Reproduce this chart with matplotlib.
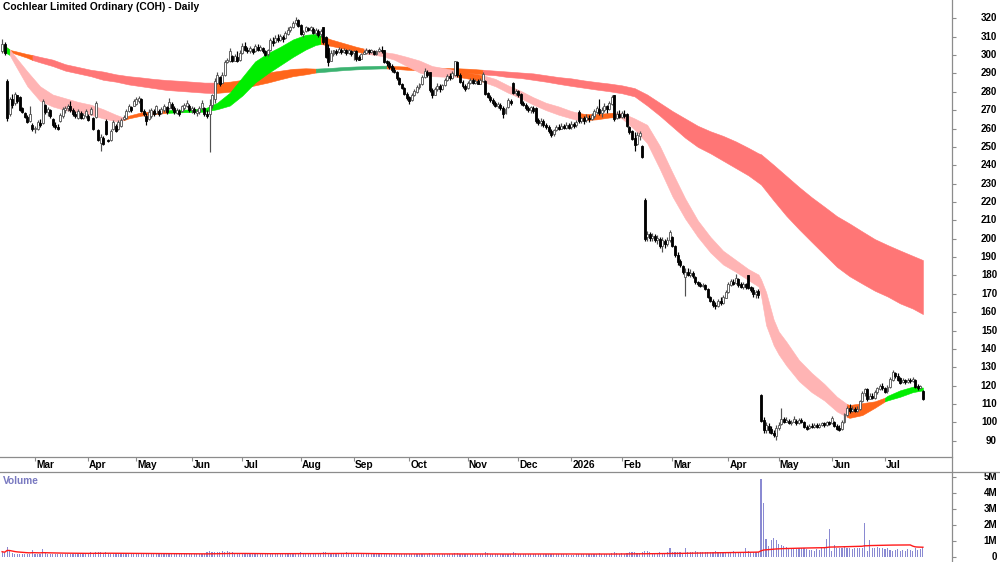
import numpy as np
import pandas as pd
import matplotlib
matplotlib.use('Agg')
import matplotlib.pyplot as plt
import matplotlib.transforms as mtransforms
from matplotlib.lines import Line2D

plt.rcParams['font.family'] = ['Liberation Sans', 'DejaVu Sans']

# ASX trading days shown on the chart
holidays = ['2025-04-18', '2025-04-21', '2025-04-25', '2025-06-09', '2025-12-25', '2025-12-26',
            '2026-01-01', '2026-01-26', '2026-04-03', '2026-04-06', '2026-06-08']
dates = pd.bdate_range('2025-02-12', '2026-07-22')
dates = dates[~dates.isin(pd.to_datetime(holidays))]

opens = [
    302, 306, 286, 268, 276, 274, 278, 277, 271, 268.5,
    266.5, 264, 262, 259.5, 260, 263, 263, 273, 269, 270,
    265, 262, 261, 264, 267, 270, 271, 272, 270, 268,
    266, 268.5, 266, 267, 267, 268, 266, 266.5, 259, 252,
    255, 264, 254, 253.5, 259.5, 261.5, 259.5, 261.5, 265, 265.5,
    269.5, 271.5, 272.5, 273.5, 275, 276, 269.5, 267, 265, 267,
    269.5, 268.5, 269.5, 268.5, 270, 271.5, 271, 273.5, 271, 268.5,
    269.5, 269.5, 271, 272.5, 272.5, 270, 270.5, 268.5, 269, 271,
    271, 268, 268, 273, 276, 285, 288, 285, 289, 296,
    297, 299.5, 297, 299, 297.5,
    301, 305, 303, 302, 303.5, 302, 304.5, 303, 304, 302,
    300.5, 302.5, 307.5, 307, 309.5, 308, 310, 309.5, 311.5, 313.5,
    315, 317.5, 319, 316.5, 311.5, 313, 314.5, 313.5, 314, 312,
    313, 311.5, 315, 310, 304, 297, 300.5, 302, 301.5, 303,
    301.5, 302.5, 301, 302, 301, 302, 299, 298, 300.5, 301,
    302.5, 301.5, 302, 300.5, 302, 303, 302.5, 296.5, 295.5, 294,
    292, 291, 287.5, 284.5, 282, 279, 277, 275.5, 278, 280,
    282.5, 284, 288, 291, 290.5, 281, 278.5, 281.5, 283, 281.5,
    283.5, 286.5, 288.5, 287.5, 289, 296, 289, 285.5, 283, 282,
    285, 286.5, 285, 286, 284.5, 286, 286, 279.5, 277, 275.5,
    274, 272.5, 273, 271, 268.5, 271.5, 275, 285, 279.5, 280.5,
    279, 274, 273, 271, 270, 271, 271, 264.5, 263, 264,
    262, 261, 258.5, 257, 259, 261, 260, 261.5, 260.5, 262,
    261, 262.5, 262, 269, 264, 265.5, 264.5, 266, 265, 267,
    269, 270.5, 268.5, 270, 272, 270.5, 273.5, 278, 265.5, 268,
    266.5, 268, 268, 261, 258.5, 255, 251.5, 256, 250.5,
    221, 201, 202.5, 200.5, 201.5, 199.5, 200, 196, 199, 197,
    199.5, 201, 196, 191, 188, 185, 179, 182, 180.5, 181.5,
    179, 176.5, 175.5, 174.5, 175, 172.5, 168.5, 166, 164, 163.5,
    166, 165, 168, 171, 175, 176.5, 176, 178, 175.5, 174,
    175.5, 180, 173.5, 172, 170, 171.5,
    115, 101.5, 96, 98, 96.5, 94.5, 92.5, 97, 99, 102,
    100.5, 101, 99.5, 100.5, 101, 99.5, 101.5, 100.5, 97.5, 97,
    98, 97.5, 98.5, 97.5, 98.5, 99.5, 98.5, 100, 99.5, 100.5,
    98, 97, 96.5, 100, 104, 108, 106, 107.5, 106.5, 107.5,
    111.5, 116, 118, 113, 114.5, 113.5, 116.5, 118, 120, 119,
    117, 119.5, 123, 127, 125.5, 124, 122, 123, 122, 123,
    122.5, 123, 120, 118.5, 117]

closes = [
    306, 301, 266, 276, 273, 279, 275, 270, 269, 266.5,
    263.5, 268, 259.5, 260.5, 263.5, 262, 275, 269, 270.5, 267,
    262, 261, 260, 267.5, 270.5, 271, 272.5, 270, 268, 267,
    269.5, 266, 267.5, 269.5, 264.5, 270.5, 259.5, 274, 253.5, 255.5,
    251.5, 257, 253.2, 258.5, 263.5, 258.5, 263.5, 264.5, 266.5, 269.5,
    272.5, 270, 275, 276, 276.5, 269.5, 268, 264, 269, 270,
    268, 272, 268, 270.5, 272.5, 269, 274.5, 271, 269, 270,
    268, 272, 273, 274, 270, 271, 269, 269.5, 271, 274,
    268, 267, 273, 278, 286, 289, 284, 289, 296, 297.5,
    302, 297, 299.5, 297, 301,
    305, 303, 302, 304, 301.5, 305, 303, 304.5, 302, 300,
    302.5, 308, 306.5, 309.5, 308, 310.5, 309, 312, 313.5, 315,
    317.5, 319, 316, 311.5, 312.5, 315, 313.5, 315, 312, 313.5,
    311, 313, 307, 299, 296, 301, 302.5, 301, 303.5, 301.5,
    302.5, 301, 302.5, 300.5, 302, 298, 297.5, 300.5, 301.5, 303,
    301.5, 302.5, 300.5, 302, 303.5, 302, 296, 295.5, 293.5, 292,
    291, 287.5, 284, 282, 279, 276.5, 275, 278.5, 280.5, 282.5,
    284, 288, 291.5, 289, 281, 278, 281.5, 283, 281.5, 283.5,
    286.5, 288.5, 287.5, 290, 296.5, 289, 285.5, 283, 281.5, 285,
    286.5, 285, 286, 284.5, 286.5, 289.5, 279, 277, 275.5, 274,
    272.5, 273.5, 271, 268, 270.5, 275.5, 274, 279.5, 280.5, 278,
    274, 273, 271, 270, 271.5, 269.5, 264, 263, 264, 262,
    261, 258.5, 256.5, 259, 261, 260, 261.5, 260.5, 262, 260.5,
    262.5, 261.5, 263.5, 264, 265.5, 264, 266.5, 265, 267.5, 269.5,
    271, 268.5, 270, 272.5, 270.5, 274, 277, 265, 268, 266.5,
    268.5, 267, 261.5, 258, 254.5, 251, 256.5, 257.5, 244.5,
    200, 202.5, 200.5, 201.5, 199.5, 200.5, 196, 199.5, 197, 199.5,
    203.5, 196, 191, 187.5, 185.5, 182, 182, 180.5, 181.5, 179.5,
    176.5, 175.5, 174.5, 175, 172.5, 168.5, 166, 164, 163.5, 166,
    165, 168.5, 171, 175.5, 177, 175.5, 178.5, 175, 174, 175.5,
    174, 173, 172, 170, 171, 169.5,
    101, 96, 98.5, 96, 94.5, 93, 97, 98.5, 102, 100.5,
    101.5, 99.5, 100.5, 102, 99.5, 101.5, 100.5, 97.5, 96.5, 98,
    97.5, 98.5, 97.5, 98.5, 99.5, 98.5, 100, 99, 102.5, 98,
    96.5, 96, 100.5, 104.5, 108, 106, 107.5, 106.5, 107.5, 111.5,
    116, 118, 112.5, 114.5, 113.5, 116.5, 118.5, 120, 118.5, 116.5,
    119.5, 123.5, 127.5, 125.5, 123, 121.5, 123, 122, 123, 122.5,
    123.5, 119.5, 118.5, 120, 113]

highs = [
    309, 307, 287, 277, 279, 280, 278.5, 277.5, 271.5, 269,
    267.5, 272, 263, 261.5, 264.5, 265, 276, 273.5, 271.5, 270.5,
    265.5, 263.5, 262.5, 268.5, 271.5, 272.5, 273.5, 275, 271, 269.5,
    270.5, 269.5, 268.5, 270.5, 268, 271.5, 266.5, 275, 259.5, 257,
    256, 265, 254.5, 259.5, 264.5, 262.5, 264.5, 265.5, 267.5, 270.5,
    273.5, 272.5, 276, 277, 277.5, 276.5, 270.5, 268.5, 270.5, 271,
    270.5, 273, 270.5, 271.5, 273.5, 272.5, 276.5, 274.5, 272, 271,
    270.5, 273, 274, 275.5, 273.5, 272.5, 271.5, 270.5, 272.5, 275.5,
    271.5, 270, 276, 279, 287.5, 290.5, 288.5, 290.5, 297.5, 298.5,
    304, 300, 300.5, 302, 303,
    306.5, 307, 304.5, 305, 304, 306, 306, 305.5, 304.5, 303,
    303.5, 309.5, 310, 311, 311.5, 311.5, 311, 313, 315, 316,
    318.5, 320.5, 319.5, 317, 313.5, 316, 315.5, 316, 315, 314.5,
    314, 314, 315.5, 310.5, 306, 302.5, 303, 303.5, 304.5, 304,
    304, 303.5, 303.5, 303, 302.5, 302.5, 300, 301, 302.5, 303.6,
    303.5, 303.5, 302.5, 303, 304.5, 305, 303, 297.5, 296.5, 295,
    293.5, 291.5, 288, 285, 282.5, 280, 277.5, 279.5, 281.5, 283.5,
    285, 289, 292.8, 292, 291, 282, 282.5, 284.6, 284, 284.5,
    287.5, 289.5, 290, 291.5, 297, 297, 290, 286.5, 284, 286,
    287.5, 287.5, 287, 287, 287.5, 291, 286.5, 280, 278, 276.5,
    275, 274.5, 274, 272, 271.5, 276.5, 276, 285.5, 281.5, 281,
    279.5, 275, 274, 272.5, 272.5, 272, 271.5, 265.5, 265.5, 265,
    263, 262, 259.5, 260, 262, 262.5, 263, 262.5, 263.5, 263,
    264, 263.5, 264.5, 270, 266.5, 267, 268, 267.5, 268.5, 270.5,
    272, 276, 271.5, 274, 273, 275, 278.5, 278.5, 269.5, 270,
    269.5, 270, 268.5, 261.5, 259, 258, 258, 258.5, 251,
    222, 204, 203.5, 203, 202.5, 202, 201, 201, 200, 201,
    204.5, 201.5, 196.5, 193, 189, 185.5, 184, 184, 183.5, 182.5,
    179.5, 177, 176.5, 176, 175.5, 173, 169, 167, 165.5, 167,
    168.5, 169.5, 172, 176.5, 178, 178, 181, 178.5, 176.5, 176.5,
    176, 180.5, 174.5, 173.5, 172, 172.5,
    115.5, 103, 100, 99.5, 98, 96, 98.5, 100, 108, 103,
    103, 102, 101.5, 103.5, 102, 102.5, 102.5, 101, 98.5, 99,
    99.5, 99.6, 99.5, 99.5, 100.5, 100.5, 101, 101, 103.5, 101,
    99, 98.5, 101.5, 105, 109, 110, 109, 108.5, 109, 112.3,
    117, 118.7, 118.5, 116, 116, 117.5, 119.5, 121, 121.5, 119.5,
    120.5, 124.5, 128.6, 127.5, 126.8, 124.5, 124, 123.5, 124, 124,
    125, 123.5, 121, 120.5, 117.5]

lows = [
    301, 300, 264, 267, 271, 273, 274, 269.5, 268.5, 265.5,
    263, 263.5, 258.5, 257.5, 259, 261, 262.5, 268, 267, 266,
    261, 260, 259, 263.5, 266, 268.5, 269.5, 269, 267, 266,
    265, 265, 265, 266, 264, 267.5, 259, 266, 253, 248,
    251, 256.5, 252.5, 253, 259, 258, 259, 261, 264.5, 265,
    269, 269, 272, 273, 274, 269, 267, 262, 264.5, 266,
    267, 268, 267, 268, 269, 268, 270.5, 270, 268, 268,
    267, 269, 270, 271.5, 269, 268.5, 268, 267, 268, 270,
    267, 266, 247, 271, 274, 284, 283, 285, 288.5, 295.5,
    296, 296, 296.5, 296, 297,
    300.5, 302, 301, 301, 300.5, 301.5, 302, 302, 301, 299.5,
    299.5, 302, 305, 306.5, 307, 307.5, 307, 309, 311, 312.5,
    314.5, 316.5, 315, 311, 310, 312.5, 313, 313, 311.5, 311,
    310, 310, 306, 298.5, 294, 296.5, 299.5, 300, 301, 300.5,
    301, 300, 300.5, 299.5, 297.5, 297, 297.5, 300, 300.5, 300.5,
    300.5, 301, 300, 300, 301.5, 301, 295.5, 294, 292.5, 291,
    290, 286.5, 283.5, 281.5, 278, 275.5, 273.5, 275, 277.5, 279.5,
    281.5, 283.5, 287.5, 288, 280, 276.5, 278, 280.5, 280, 281,
    283, 286, 286.5, 287, 288.5, 288, 285, 282, 280.5, 281.5,
    284.5, 284, 284, 284, 284, 285.5, 278, 276.5, 274.5, 273,
    271.5, 271, 270, 265.5, 268, 271, 273, 279, 278, 277,
    273, 272, 270, 269, 268.5, 268.5, 263, 262, 261.5, 261,
    260, 257.5, 255.6, 256, 258.5, 259, 259.5, 259.5, 259.5, 259.5,
    260, 260.5, 261, 263, 263, 262.5, 263.5, 263.5, 264.5, 266,
    268, 267.5, 266.5, 269, 268.5, 270, 273, 264, 265, 265.5,
    265.5, 266, 261, 257, 254, 247.5, 251, 254, 244,
    199, 199, 199, 199, 198.5, 197, 195, 193, 195, 196,
    198.5, 195.5, 190, 185.5, 184.5, 181, 169, 179.5, 179, 178.5,
    175.5, 174.5, 173.5, 173.5, 172, 167.5, 165.5, 163, 162, 163,
    164, 164.5, 167.5, 170.5, 174.5, 175, 175.5, 174, 173, 172.5,
    172.5, 172.5, 171, 168.5, 168, 168,
    100, 94, 94.5, 94, 93.5, 92, 90.5, 96, 98.5, 99.5,
    100, 99, 98.7, 100, 98.5, 99, 99.5, 97, 96, 96.5,
    97, 97, 97, 97, 98, 97.5, 98, 98.5, 99, 97.5,
    96, 95.5, 96, 99.5, 103.5, 105, 105.5, 105.5, 105.5, 107,
    111, 114.5, 111.5, 112.5, 113, 113, 115.5, 117.5, 117.5, 116,
    116, 119, 122.5, 124, 122.5, 121, 121.5, 121, 121.5, 121.5,
    122, 118.5, 117.7, 118.5, 112.2]

# volume in millions of shares
volume = [
    0.35, 0.28, 0.66, 0.40, 0.25, 0.22, 0.2, 0.22, 0.18, 0.2, 0.18, 0.2, 0.45, 0.22, 0.2, 0.22, 0.5, 0.25, 0.2, 0.18,
    0.2, 0.18, 0.22, 0.2, 0.2, 0.18, 0.2, 0.22, 0.2, 0.18, 0.2, 0.22, 0.2, 0.2, 0.22, 0.3, 0.25, 0.3, 0.35, 0.32,
    0.28, 0.3, 0.25, 0.22, 0.2, 0.25, 0.2, 0.18, 0.2, 0.18, 0.2, 0.18, 0.2, 0.18, 0.2, 0.22, 0.18, 0.2, 0.18, 0.2,
    0.18, 0.2, 0.18, 0.22, 0.18, 0.2, 0.25, 0.18, 0.2, 0.18, 0.22, 0.2, 0.18, 0.2, 0.22, 0.2, 0.18, 0.2, 0.22, 0.2,
    0.22, 0.3, 0.4, 0.3, 0.35, 0.32, 0.3, 0.38, 0.35, 0.4, 0.32, 0.3, 0.28, 0.25, 0.22, 0.2, 0.22, 0.2, 0.18, 0.2,
    0.2, 0.18, 0.2, 0.22, 0.2, 0.18, 0.2, 0.22, 0.2, 0.18, 0.2, 0.22, 0.2, 0.18, 0.2, 0.2, 0.22, 0.25, 0.3, 0.22,
    0.2, 0.18, 0.2, 0.22, 0.2, 0.2, 0.22, 0.3, 0.32, 0.28, 0.25, 0.22, 0.2, 0.2, 0.25, 0.28, 0.3, 0.25, 0.22, 0.2,
    0.2, 0.18, 0.2, 0.18, 0.2, 0.18, 0.2, 0.2, 0.18, 0.2, 0.18, 0.22, 0.2, 0.2, 0.18, 0.2, 0.22, 0.2, 0.18, 0.2,
    0.2, 0.22, 0.2, 0.18, 0.2, 0.18, 0.2, 0.22, 0.2, 0.25, 0.22, 0.2, 0.18, 0.2, 0.2, 0.18, 0.2, 0.22, 0.2, 0.25,
    0.28, 0.22, 0.2, 0.2, 0.18, 0.2, 0.2, 0.18, 0.22, 0.2, 0.2, 0.3, 0.25, 0.2, 0.18, 0.2, 0.2, 0.22, 0.2, 0.2,
    0.2, 0.22, 0.3, 0.25, 0.2, 0.2, 0.18, 0.2, 0.2, 0.18, 0.2, 0.22, 0.2, 0.18, 0.2, 0.2, 0.2, 0.22, 0.18, 0.2,
    0.18, 0.2, 0.2, 0.18, 0.12, 0.12, 0.15, 0.2, 0.22, 0.2, 0.2, 0.18, 0.2, 0.2, 0.22, 0.2, 0.25, 0.2, 0.2, 0.22,
    0.22, 0.25, 0.3, 0.25, 0.22, 0.25, 0.22, 0.28, 0.3, 0.32, 0.35, 0.28, 0.25, 0.32, 0.42, 0.38, 0.3, 0.28, 0.25, 0.28,
    0.3, 0.28, 0.25, 0.3, 0.55, 0.3, 0.35, 0.32, 0.3, 0.28, 0.55, 0.3, 0.32, 0.35, 0.38, 0.3, 0.32, 0.3, 0.35, 0.32,
    0.3, 0.35, 0.4, 0.35, 0.3, 0.32, 0.35, 0.3, 0.32, 0.4, 0.35, 0.3, 0.32, 0.35, 0.6, 0.4, 0.35, 0.3, 0.32, 0.35,
    4.87, 3.37, 1.15, 0.72, 1.05, 1.2, 1.1, 0.85, 0.75, 0.7, 0.65, 0.6, 0.55, 0.6, 0.5, 0.55, 0.6, 0.55, 0.5, 0.45,
    0.45, 0.4, 0.5, 0.45, 0.55, 0.6, 1.15, 1.75, 0.4, 0.75, 0.6, 0.55, 0.6, 0.65, 0.55, 0.6, 0.5, 0.55, 0.6, 0.55,
    0.6, 2.15, 0.4, 1.1, 0.55, 0.6, 0.65, 0.55, 0.6, 0.5, 0.55, 0.45, 0.4, 0.45, 0.5, 0.4, 0.45, 0.4, 0.5, 0.45,
    0.4, 0.6, 0.45, 0.5, 0.65]

# short term ribbon: bar index, lower edge, upper edge, state of the segment that follows
short_idx = [0, 3, 5, 10, 15, 20, 25, 30, 35, 40, 45, 48, 50, 55, 60, 65, 70, 75, 80, 85,
             90, 95, 100, 105, 110, 115, 120, 124, 126, 130, 135, 140, 143, 145, 150, 155, 160, 165, 170, 175,
             180, 185, 190, 195, 200, 205, 210, 215, 220, 225, 228, 230, 235, 240, 242, 245, 250, 255, 260, 265,
             270, 275, 280, 285, 290, 295, 299, 300, 302, 305, 307, 310, 315, 320, 325, 330, 334, 335, 340, 345,
             349, 350, 355, 360, 364]
short_lo = [302.5, 300, 295, 283, 275, 272, 270, 269, 267.5, 265.5, 264, 264.5, 265.5, 267, 267.8, 268.5, 268.8, 269, 269.2, 270.5,
            272.5, 278, 285, 290, 294.5, 299, 303, 305.5, 306, 305, 303.5, 302, 301, 300.5, 299.5, 297.5, 294, 290.5, 288.5, 288.2,
            288.2, 287, 285.5, 283, 279.5, 276.5, 273, 270, 267.5, 265.5, 264.5, 264.5, 265, 266, 266.2, 265.5, 259.5, 252, 238, 223,
            211, 201, 192.5, 186, 182, 177.5, 174, 169, 153, 142, 137, 131, 122.5, 116.5, 112, 106, 103, 102.5, 104, 108,
            111.5, 112, 114, 116.5, 117.5]
short_hi = [306, 303, 299.5, 291, 283, 278.5, 276.5, 274.5, 273, 270.5, 267.5, 266, 267, 268.8, 269.5, 270, 270.2, 270.4, 270.8, 274,
            279.5, 288, 296.5, 301, 304.5, 308.5, 311, 311.5, 310.5, 308.5, 306.5, 304.5, 303.5, 302.8, 301.8, 300.8, 299, 297, 294, 292.8,
            291.5, 290.2, 289, 287, 283.5, 280.5, 277, 274, 272, 269.5, 268.5, 268, 267.8, 268.5, 268.6, 268.5, 265.5, 262, 250.5, 236,
            222, 210, 201, 193.5, 188.5, 183.5, 180.5, 178, 171, 156, 149.5, 144, 134, 127, 121, 114, 110, 109.5, 110.5, 111.5,
            113.5, 114.5, 117.5, 119.5, 119]
short_state = list('g' + 'p' * 10 + 'o' * 4 + 'g' * 13 + 'o' * 4 + 'p' * 8 + 'o' * 2 + 'p' * 8
                   + 'o' * 4 + 'p' * 22 + 'o' * 4 + 'g' * 5)

# long term ribbon
long_idx = [0, 3, 5, 10, 12, 15, 20, 25, 30, 35, 40, 45, 50, 55, 60, 65, 70, 75, 80, 84,
            90, 95, 100, 105, 110, 115, 120, 124, 130, 135, 140, 145, 150, 152, 155, 160, 165, 170, 175, 180,
            185, 190, 195, 200, 205, 210, 215, 220, 225, 230, 235, 240, 245, 250, 255, 260, 265, 270, 275, 280,
            285, 290, 295, 299, 300, 305, 310, 315, 320, 325, 330, 335, 340, 345, 350, 355, 360, 364]
long_lo = [302, 301.8, 300.8, 298.5, 297.3, 296, 294, 291.5, 290, 288.5, 286.5, 285.5, 284, 283, 282, 281, 280.5, 280, 279.5, 279.3,
           280, 282, 283.5, 285, 286.8, 288.5, 289.5, 290.5, 291.2, 291.8, 292.2, 292.5, 292.7, 292.7, 292.5, 292, 291.7, 291.3, 291, 290.7,
           290.2, 289.5, 289, 288, 287.5, 286.5, 285.5, 284.3, 283.2, 282.2, 281.2, 280.3, 279.2, 277.5, 272.5, 267, 261, 255, 250, 246.5,
           242.5, 238.5, 234.5, 230.5, 229.5, 220.8, 212.5, 205.2, 198.3, 191.5, 184.7, 179.6, 175.6, 171.7, 168.6, 164.8, 162, 159]
long_hi = [306, 302.8, 302.2, 300.5, 300, 299, 297.5, 295, 293.5, 292, 291, 289.5, 288.5, 287.8, 287, 286.4, 286, 285.5, 285, 285,
           285.5, 286.5, 288.5, 290.5, 291.5, 292.5, 292.8, 292.6, 293, 293.5, 293.8, 294, 294.2, 294.2, 294, 293.7, 293.5, 293.2, 293, 292.8,
           292.5, 292, 291.5, 291, 290.5, 290, 289, 288, 287.3, 286.2, 285.3, 284.5, 283.5, 282, 278.5, 274, 269.5, 265.5, 261.5, 258.5,
           256, 253, 249.5, 246.5, 246, 240.2, 234.2, 228.2, 222.6, 217.5, 212.3, 208.3, 204, 199.8, 196.6, 193.6, 190.7, 188.4]
long_state = list('o' * 4 + 'r' * 15 + 'o' * 8 + 'G' * 6 + 'o' * 8 + 'r' * 37)

ribbon_colours = {'p': '#ffb4b4', 'o': '#ff661a', 'g': '#00ee00', 'r': '#ff7676', 'G': '#3cb371'}
grey = '#8c8c8c'

opens, closes, highs, lows = map(np.array, (opens, closes, highs, lows))
volume = np.array(volume)
n = len(closes)
x = np.arange(n)

fig = plt.figure(figsize=(10, 5.62), dpi=100)
ax = fig.add_axes([0, 1 - 457 / 562, 0.952, 457 / 562])
axv = fig.add_axes([0, 0, 0.952, 90 / 562])


def draw_ribbon(idx, lo, hi, states):
    start = 0
    for k in range(1, len(idx)):
        if k == len(idx) - 1 or states[k] != states[start]:
            ax.fill_between(idx[start:k + 1], lo[start:k + 1], hi[start:k + 1],
                            color=ribbon_colours[states[start]], lw=0.4, zorder=1)
            start = k


draw_ribbon(long_idx, long_lo, long_hi, long_state)
draw_ribbon(short_idx, short_lo, short_hi, short_state)

up = closes >= opens
dn = ~up
ax.vlines(x[up], lows[up], highs[up], color='#505050', lw=0.85, zorder=3)
ax.vlines(x[dn], lows[dn], highs[dn], color='black', lw=0.85, zorder=3)
ax.bar(x[up], closes[up] - opens[up], bottom=opens[up], width=0.78,
       facecolor='white', edgecolor='#505050', lw=0.6, zorder=4)
ax.bar(x[dn], opens[dn] - closes[dn], bottom=closes[dn], width=0.78,
       facecolor='black', edgecolor='black', lw=0.6, zorder=4)

ax.set_xlim(-0.83, 375.5)
ax.set_ylim(81.2, 329.96)
axv.set_xlim(-0.83, 375.5)
axv.set_ylim(-0.294, 5.33)

# volume and its average
axv.bar(x, volume, width=0.45, color='#8a8ad2', zorder=2)
vol_avg = pd.Series(volume).rolling(60, min_periods=1).mean()
axv.plot(x, vol_avg, color='#ff1a1a', lw=1.0, zorder=3)

for a in (ax, axv):
    for s in a.spines.values():
        s.set_visible(False)
ax.spines['bottom'].set_visible(True)
ax.spines['bottom'].set_color(grey)
ax.spines['bottom'].set_linewidth(0.9)

# month ticks along the date strip
month_pos = [i for i in range(1, n) if dates[i].month != dates[i - 1].month]
month_lab = [str(dates[i].year) if dates[i].month == 1 else dates[i].strftime('%b') for i in month_pos]
ax.set_xticks(month_pos)
ax.tick_params(axis='x', direction='out', length=3, width=0.8, color=grey, labelbottom=False)
axv.set_xticks([])
tr = mtransforms.blended_transform_factory(ax.transData, ax.transAxes)
for p, lab in zip(month_pos, month_lab):
    ax.text(p + 0.45, -8 / 457, lab, transform=tr, ha='left', va='center',
            fontsize=7.3, fontweight='bold', clip_on=False)

# price scale on the right
price_ticks = list(range(90, 330, 10))
ax.yaxis.tick_right()
ax.set_yticks(price_ticks)
ax.tick_params(axis='y', direction='out', length=3, width=0.8, color=grey, labelright=False)
trp = mtransforms.blended_transform_factory(ax.transAxes, ax.transData)
for t in price_ticks:
    ax.text(997 / 952, t, str(t), transform=trp, ha='right', va='center',
            fontsize=7, fontweight='bold', clip_on=False)

vol_ticks = [0, 1, 2, 3, 4, 5]
axv.yaxis.tick_right()
axv.set_yticks(vol_ticks)
axv.tick_params(axis='y', direction='out', length=3, width=0.8, color=grey, labelright=False)
trv = mtransforms.blended_transform_factory(axv.transAxes, axv.transData)
for t in vol_ticks:
    axv.text(997 / 952, t, '0' if t == 0 else '%dM' % t, transform=trv, ha='right', va='center',
             fontsize=7, fontweight='bold', clip_on=False)

fig.add_artist(Line2D([0.952, 0.952], [0, 1], color=grey, lw=0.9))
fig.add_artist(Line2D([0, 1], [1 - 472 / 562, 1 - 472 / 562], color=grey, lw=0.9))

fig.text(0.003, 1 - 2.5 / 562, 'Cochlear Limited Ordinary (COH) - Daily', ha='left', va='top',
         fontsize=7.4, fontweight='bold')
fig.text(0.003, 1 - 476 / 562, 'Volume', ha='left', va='top', fontsize=7.3,
         fontweight='bold', color='#7878c0')

assert len(opens) == len(highs) == len(lows) == len(volume) == len(dates) == n
assert len(short_idx) == len(short_lo) == len(short_hi) == len(short_state)
assert len(long_idx) == len(long_lo) == len(long_hi) == len(long_state)

fig.savefig('out.png', dpi=100, facecolor='white')
